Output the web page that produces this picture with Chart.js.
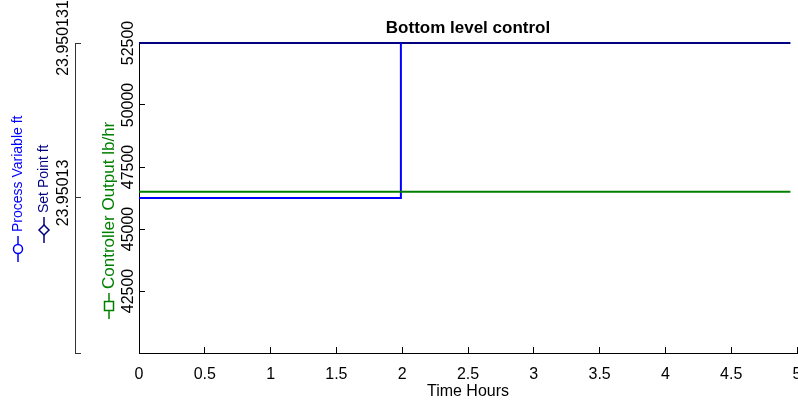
<!DOCTYPE html>
<html>
<head>
<meta charset="utf-8">
<script src="https://cdn.jsdelivr.net/npm/chart.js@4.4.0/dist/chart.umd.min.js"></script>
<style>
  html, body { margin: 0; padding: 0; background: #fff; }
  #wrap { width: 798px; height: 402px; }
</style>
</head>
<body>
<div id="wrap"><canvas id="grafica"></canvas></div>
<script>
// datos
const timeHours = [0, 1.99, 4.95];
const processVariable = [23.95013, 23.95014, 23.95014];
const setPoint = [23.950131, 23.950131, 23.950131];
const controllerOutput = [46500, 46500, 46500];

const xTicks = [0, 0.5, 1, 1.5, 2, 2.5, 3, 3.5, 4, 4.5, 5];
const xTickLabels = ['0', '0.5', '1', '1.5', '2', '2.5', '3', '3.5', '4', '4.5', '5'];
const coTicks = [40000, 42500, 45000, 47500, 50000, 52500];
const coTickLabels = ['', '42500', '45000', '47500', '50000', '52500'];
const pvTicks = [23.950129, 23.95013, 23.950131];
const pvTickLabels = ['', '23.95013', '23.950131'];

const FONT = 'Arial, "Liberation Sans", Helvetica, sans-serif';
Chart.defaults.font.family = FONT;
Chart.defaults.font.size = 16;
Chart.defaults.color = '#000';

function puntos(ys) {
    return timeHours.map((t, i) => ({ x: t, y: ys[i] }));
}

// centrar el titulo sobre el area de la grafica
const tituloCentrado = {
    id: 'tituloCentrado',
    afterLayout(chart) {
        const t = chart.titleBlock;
        if (t) {
            t.left = chart.chartArea.left;
            t.right = chart.chartArea.right;
            t.width = t.right - t.left;
        }
    }
};

// etiquetas de los ejes con su marcador (como la leyenda de matlab)
const etiquetasEjes = {
    id: 'etiquetasEjes',
    afterDraw(chart) {
        const ctx = chart.ctx;
        const items = [
            { text: 'Process Variable ft', color: '#0000ff', marker: 'circle', x: 18, y: 232, size: 14 },
            { text: 'Set Point ft', color: '#000080', marker: 'diamond', x: 44, y: 213, size: 14 },
            { text: 'Controller Output lb/hr', color: '#008000', marker: 'square', x: 109, y: 289, size: 17 }
        ];
        items.forEach(it => {
            ctx.save();
            ctx.font = it.size + 'px ' + FONT;
            ctx.fillStyle = it.color;
            ctx.strokeStyle = it.color;
            ctx.lineWidth = 1.5;
            ctx.translate(it.x, it.y);
            ctx.rotate(-Math.PI / 2);
            ctx.textAlign = 'left';
            ctx.textBaseline = 'middle';
            ctx.fillText(it.text, 0, 0);
            // marcador antes del texto
            const m0 = -30, m1 = -4, mc = -17;
            ctx.beginPath();
            ctx.moveTo(m0, 0); ctx.lineTo(m1, 0);
            ctx.stroke();
            ctx.fillStyle = '#fff';
            ctx.beginPath();
            if (it.marker === 'circle') {
                ctx.arc(mc, 0, 4.5, 0, Math.PI * 2);
            } else if (it.marker === 'diamond') {
                ctx.moveTo(mc - 5, 0); ctx.lineTo(mc, -5); ctx.lineTo(mc + 5, 0); ctx.lineTo(mc, 5); ctx.closePath();
            } else {
                ctx.rect(mc - 4.5, -4.5, 9, 9);
            }
            ctx.fill();
            ctx.stroke();
            ctx.restore();
        });
    }
};

const ctx = document.getElementById('grafica').getContext('2d');
const chart = new Chart(ctx, {
    type: 'line',
    data: {
        datasets: [{
            label: 'Controller Output lb/hr',
            data: puntos(controllerOutput),
            xAxisID: 'x',
            yAxisID: 'yCO',
            borderColor: '#008000',
            borderWidth: 2,
            pointRadius: 0,
            order: 0
        }, {
            label: 'Process Variable ft',
            data: puntos(processVariable),
            xAxisID: 'x',
            yAxisID: 'yPV',
            stepped: 'before',
            borderColor: '#0000ff',
            borderWidth: 2,
            pointRadius: 0,
            order: 1
        }, {
            label: 'Set Point ft',
            data: puntos(setPoint),
            xAxisID: 'x',
            yAxisID: 'yPV',
            borderColor: '#000080',
            borderWidth: 2,
            pointRadius: 0,
            clip: 3,
            order: 2
        }]
    },
    options: {
        responsive: true,
        maintainAspectRatio: false,
        animation: false,
        events: [],
        layout: { padding: { left: 0, right: 1, top: 0, bottom: 0 } },
        plugins: {
            legend: { display: false },
            tooltip: { enabled: false },
            title: {
                display: true,
                text: 'Bottom level control',
                color: '#000',
                font: { size: 17, weight: 'bold' },
                padding: { top: 18, bottom: 4.6 }
            }
        },
        scales: {
            x: {
                type: 'linear',
                position: 'bottom',
                min: 0,
                max: 5,
                afterBuildTicks: s => { s.ticks = xTicks.map(v => ({ value: v })); },
                afterFit: s => { s.height = 49; s.paddingLeft = 0; s.paddingRight = 0; },
                ticks: {
                    callback: (v, i) => xTickLabels[i],
                    autoSkip: false,
                    maxRotation: 0,
                    padding: 18
                },
                grid: { drawOnChartArea: false, tickLength: -6, color: '#000' },
                border: { color: '#000', width: 1 },
                title: { display: true, text: 'Time Hours', color: '#000', padding: { top: 0, bottom: 1 } }
            },
            yCO: {
                type: 'linear',
                position: 'left',
                weight: 0,
                min: 40000,
                max: 52500,
                afterBuildTicks: s => { s.ticks = coTicks.map(v => ({ value: v })); },
                afterFit: s => { s.width = 64; s.paddingTop = 0; s.paddingBottom = 0; },
                ticks: {
                    callback: (v, i) => coTickLabels[i],
                    autoSkip: false,
                    minRotation: 90,
                    maxRotation: 90,
                    crossAlign: 'center',
                    padding: -6
                },
                grid: { drawOnChartArea: false, tickLength: -6, color: '#000' },
                border: { color: '#000', width: 1 }
            },
            yPV: {
                type: 'linear',
                position: 'left',
                weight: 1,
                min: 23.950129,
                max: 23.950131,
                afterBuildTicks: s => { s.ticks = pvTicks.map(v => ({ value: v })); },
                afterFit: s => { s.width = 75; s.paddingTop = 0; s.paddingBottom = 0; },
                ticks: {
                    callback: (v, i) => pvTickLabels[i],
                    autoSkip: false,
                    minRotation: 90,
                    maxRotation: 90,
                    crossAlign: 'center',
                    labelOffset: -5,
                    padding: -20
                },
                grid: { drawOnChartArea: false, tickLength: -6, color: '#333' },
                border: { color: '#333', width: 1 }
            }
        }
    },
    plugins: [tituloCentrado, etiquetasEjes]
});
</script>
</body>
</html>
